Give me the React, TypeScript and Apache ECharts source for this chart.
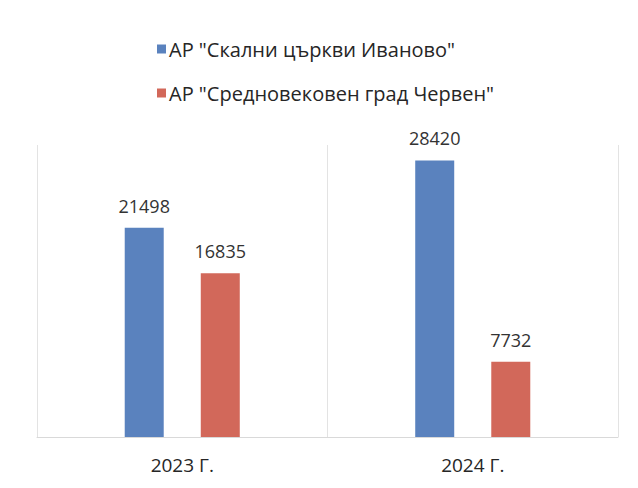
import React, { useEffect, useRef } from "react";
import * as echarts from "echarts";

const categories = ["2023 Г.", "2024 Г."];
const seriesNames = ['АР "Скални църкви Иваново"', 'АР "Средновековен град Червен"'];
const ivanovoValues = [21498, 28420];
const chervenValues = [16835, 7732];
const colors = ["#5A82BE", "#D2685A"];

export default function App() {
  const ref = useRef<HTMLDivElement>(null);
  useEffect(() => {
    const chart = echarts.init(ref.current!, null, { renderer: "svg" });
    const font = "'Open Sans', 'Noto Sans', sans-serif";
    chart.setOption({
      animation: false,
      backgroundColor: "#ffffff",
      color: colors,
      textStyle: { fontFamily: font },
      legend: {
        orient: "vertical",
        left: 152,
        top: 34,
        itemGap: 24,
        itemWidth: 9,
        itemHeight: 9,
        icon: "rect",
        textStyle: { fontSize: 20, color: "#262626", fontFamily: font, padding: [0, 0, 0, -2] },
        data: seriesNames,
      },
      grid: { left: 37, right: 20, top: 145, bottom: 51 },
      xAxis: {
        type: "category",
        data: categories,
        boundaryGap: true,
        axisLine: { show: true, lineStyle: { color: "#d9d9d9", width: 1 } },
        axisTick: { show: false },
        splitLine: { show: true, lineStyle: { color: "#e3e3e3", width: 1 } },
        axisLabel: { fontSize: 19, color: "#262626", margin: 18, fontFamily: font },
      },
      yAxis: {
        type: "value",
        min: 0,
        max: 30000,
        show: false,
        splitLine: { show: false },
      },
      series: [
        {
          name: seriesNames[0],
          type: "bar",
          data: ivanovoValues,
          barWidth: 39,
          barGap: "95%",
          label: { show: true, position: "top", distance: 13, fontSize: 18, color: "#333333", fontFamily: font },
        },
        {
          name: seriesNames[1],
          type: "bar",
          data: chervenValues,
          barWidth: 39,
          barGap: "95%",
          label: { show: true, position: "top", distance: 13, fontSize: 18, color: "#333333", fontFamily: font },
        },
      ],
    });
    return () => chart.dispose();
  }, []);
  return <div ref={ref} style={{ position: "absolute", left: 0, top: 0, width: 638, height: 488 }} />;
}
